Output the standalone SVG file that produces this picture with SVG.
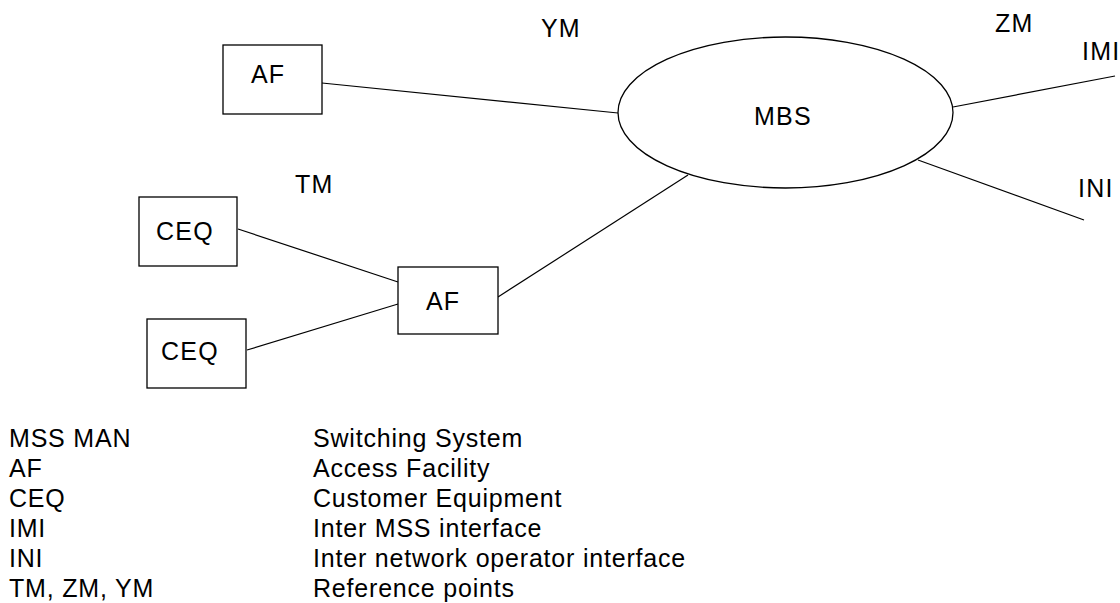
<svg xmlns="http://www.w3.org/2000/svg" width="1120" height="603" viewBox="0 0 1120 603">
<style>
.box{fill:#fff;stroke:#000;stroke-width:1.3}
.lbl{font-family:"Liberation Sans",Arial,sans-serif;font-size:25px;letter-spacing:1.2px;fill:#000}
.leg{font-family:"Liberation Sans",Arial,sans-serif;font-size:25px;letter-spacing:0.8px;fill:#000}
.ln{stroke:#000;stroke-width:1.2;fill:none}
</style>
<rect width="1120" height="603" fill="#fff"/>
<g id="connectors">
<line class="ln" x1="322" y1="83" x2="618" y2="113"/>
<line class="ln" x1="238" y1="229" x2="398" y2="282"/>
<line class="ln" x1="247" y1="350" x2="398" y2="304"/>
<line class="ln" x1="498" y1="297" x2="688" y2="175"/>
<line class="ln" x1="953" y1="107" x2="1115" y2="76"/>
<line class="ln" x1="918" y1="160" x2="1084" y2="220"/>
</g>
<g id="mbs">
<ellipse class="box" cx="785.5" cy="112.5" rx="167.5" ry="75.5"/>
<text class="lbl" x="754" y="125">MBS</text>
</g>
<g id="af-top">
<rect class="box" x="223" y="45" width="99" height="69"/>
<text class="lbl" x="251" y="83">AF</text>
</g>
<g id="ceq-upper">
<rect class="box" x="139" y="197" width="98" height="69"/>
<text class="lbl" x="156" y="240">CEQ</text>
</g>
<g id="af-lower">
<rect class="box" x="398" y="267" width="100" height="67"/>
<text class="lbl" x="426" y="310">AF</text>
</g>
<g id="ceq-lower">
<rect class="box" x="147" y="319" width="99" height="69"/>
<text class="lbl" x="161" y="360">CEQ</text>
</g>
<g id="ref-labels">
<text class="lbl" x="541" y="37">YM</text>
<text class="lbl" x="995" y="32">ZM</text>
<text class="lbl" x="1082" y="60">IMI</text>
<text class="lbl" x="1078" y="197">INI</text>
<text class="lbl" x="295" y="193">TM</text>
</g>
<g id="legend">
<text class="leg" x="9" y="447">MSS MAN</text>
<text class="leg" x="9" y="477">AF</text>
<text class="leg" x="9" y="507">CEQ</text>
<text class="leg" x="9" y="537">IMI</text>
<text class="leg" x="9" y="567">INI</text>
<text class="leg" x="9" y="597">TM, ZM, YM</text>
<text class="leg" x="313" y="447">Switching System</text>
<text class="leg" x="313" y="477">Access Facility</text>
<text class="leg" x="313" y="507">Customer Equipment</text>
<text class="leg" x="313" y="537">Inter MSS interface</text>
<text class="leg" x="313" y="567">Inter network operator interface</text>
<text class="leg" x="313" y="597">Reference points</text>
</g>
</svg>
